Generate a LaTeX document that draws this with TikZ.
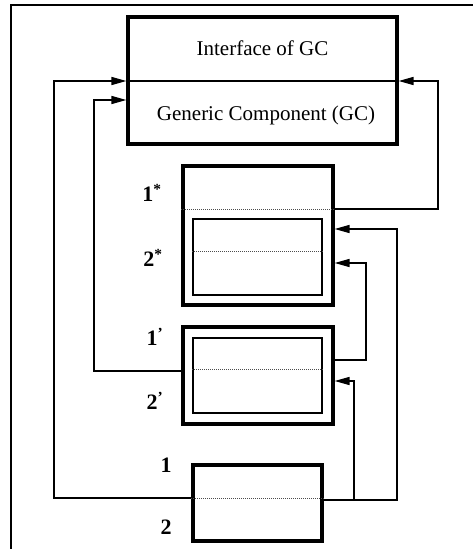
\documentclass[tikz,border=0pt]{standalone}
\usepackage{fontspec}
\setmainfont{Liberation Serif}
\usetikzlibrary{arrows.meta,calc}
\begin{document}
\begin{tikzpicture}[x=1pt,y=-1pt,
  thickbox/.style={draw,line width=3.2pt,inner sep=0pt},
  thinbox/.style={draw,line width=1.8pt,inner sep=0pt},
  conn/.style={line width=1.5pt},
  arr/.style={conn,-{Triangle[length=15pt,width=8pt]}},
  dotl/.style={line width=1pt,densely dotted,black!70},
  lbl/.style={font=\fontsize{22}{22}\selectfont\bfseries,inner sep=0pt},
  txt/.style={font=\fontsize{21}{21}\selectfont,inner sep=0pt}]
\useasboundingbox (0,0) rectangle (473,549);
% frame
\draw[line width=2pt] (11,549) -- (11,5) -- (473,5);
% boxes
\node[thickbox,minimum width=269pt,minimum height=127pt] (gc) at (262.5,80.5) {};
\node[thickbox,minimum width=150pt,minimum height=139pt] (b1s) at (258,235.5) {};
\node[thinbox,minimum width=129pt,minimum height=76pt] (b2s) at (257.5,257) {};
\node[thickbox,minimum width=150pt,minimum height=97pt] (b1p) at (258,375.5) {};
\node[thinbox,minimum width=129pt,minimum height=75pt] (b2p) at (257.5,375.5) {};
\node[thickbox,minimum width=129pt,minimum height=76pt] (b1) at (257.5,503) {};
% texts
\node[txt] (t1) at (262.5,48) {Interface of GC};
\node[txt] (t2) at (266,115) {Generic Component (GC)};
\node[lbl] (l1s) at (152,193) {1\textsuperscript{*}};
\node[lbl] (l2s) at (153,258) {2\textsuperscript{*}};
\node[lbl] (l1p) at (155,337) {1\textsuperscript{’}};
\node[lbl] (l2p) at (155,401) {2\textsuperscript{’}};
\node[lbl] (l1) at (166,465) {1};
\node[lbl] (l2) at (166,527) {2};
% dotted separators
\draw[dotl] (b1s.west |- 0,209) -- (b1s.east |- 0,209);
\draw[dotl] (b2s.west |- 0,251) -- (b2s.east |- 0,251);
\draw[dotl] (b2p.west |- 0,369) -- (b2p.east |- 0,369);
\draw[dotl] (b1.west |- 0,498) -- (b1.east |- 0,498);
% separator inside GC
\draw[conn] (gc.west |- 0,81) -- (gc.east |- 0,81);
% connectors
\coordinate (c1) at (54,81);
\coordinate (c2) at (438,81);
\coordinate (c3) at (94,100);
\coordinate (c4) at (366,263);
\coordinate (c5) at (397,229);
\coordinate (c6) at (354,381);
\draw[arr] (b1.west |- 0,498) -| (c1) -- (gc.west |- c1);
\draw[arr] (b1s.east |- 0,209) -| (c2) -- (gc.east |- c2);
\draw[arr] (b1p.west |- 0,371) -| (c3) -- (gc.west |- c3);
\draw[arr] (b1p.east |- 0,360) -| (c4) -- (b1s.east |- c4);
\draw[arr] (b1.east |- 0,500) -| (c5) -- (b1s.east |- c5);
\draw[arr] (c6 |- 0,500) -- (c6) -- (b1p.east |- c6);
\end{tikzpicture}
\end{document}
